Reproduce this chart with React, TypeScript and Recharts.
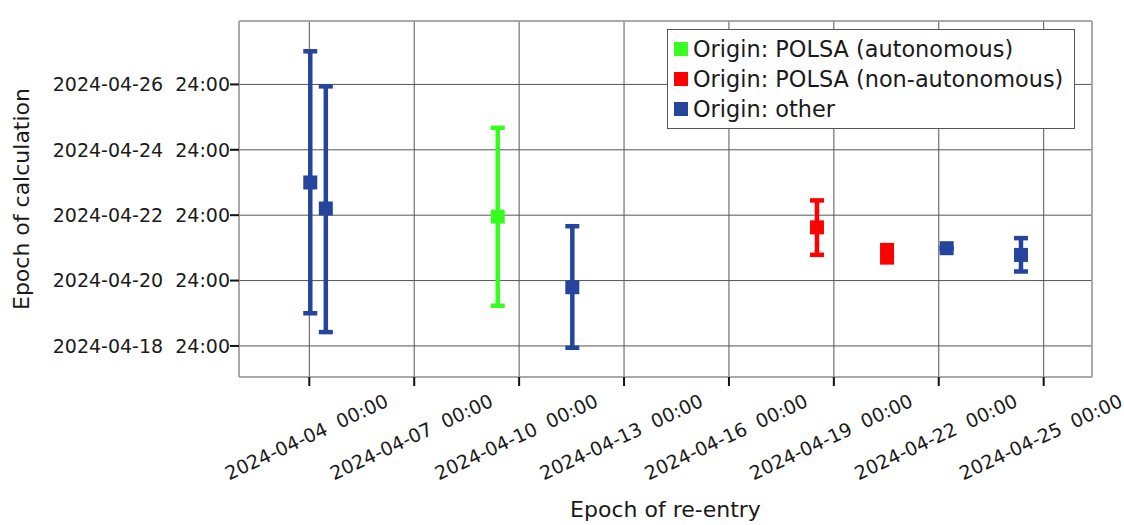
import React from 'react';
import {
  ScatterChart,
  Scatter,
  XAxis,
  YAxis,
  CartesianGrid,
  ErrorBar,
  Legend,
  Label,
} from 'recharts';

const FONT = '"DejaVu Sans", "Verdana", sans-serif';
const BASE = Date.UTC(2024, 3, 1);
const DAY = 86400000;
// timestamps are handled as fractional days since 2024-04-01 00:00 UTC
const toDay = (s: string) => (Date.parse(s + ':00Z') - BASE) / DAY;

const xTickLabels = [
  '2024-04-04  00:00',
  '2024-04-07  00:00',
  '2024-04-10  00:00',
  '2024-04-13  00:00',
  '2024-04-16  00:00',
  '2024-04-19  00:00',
  '2024-04-22  00:00',
  '2024-04-25  00:00',
];
const yTickLabels = [
  '2024-04-18  24:00',
  '2024-04-20  24:00',
  '2024-04-22  24:00',
  '2024-04-24  24:00',
  '2024-04-26  24:00',
];

const xTicks = xTickLabels.map((l) => toDay(l.replace('  ', 'T')));
// "24:00" is the end of the named day
const yTicks = yTickLabels.map((l) => toDay(l.slice(0, 10) + 'T00:00') + 1);

const xDomain = [toDay('2024-04-01T23:45'), toDay('2024-04-26T09:10')];
const yDomain = [toDay('2024-04-18T01:12'), toDay('2024-04-28T22:34')];

// Origin: POLSA (autonomous)
const autoReentry = ['2024-04-09T09:20'];
const autoCalc = ['2024-04-22T22:55'];
const autoLow = ['2024-04-20T05:30'];
const autoHigh = ['2024-04-25T16:10'];

// Origin: POLSA (non-autonomous)
const manualReentry = ['2024-04-18T12:25', '2024-04-20T12:30'];
const manualCalc = ['2024-04-22T15:05', '2024-04-21T19:40'];
const manualLow = ['2024-04-21T18:55', '2024-04-21T13:20'];
const manualHigh = ['2024-04-23T10:50', '2024-04-22T02:00'];

// Origin: other
const otherReentry = ['2024-04-04T00:40', '2024-04-04T11:20', '2024-04-11T12:30', '2024-04-22T05:25', '2024-04-24T08:25'];
const otherCalc = ['2024-04-24T00:00', '2024-04-23T04:55', '2024-04-20T19:05', '2024-04-21T23:45', '2024-04-21T18:50'];
const otherLow = ['2024-04-20T00:00', '2024-04-19T10:10', '2024-04-18T22:40', '2024-04-21T23:45', '2024-04-21T06:40'];
const otherHigh = ['2024-04-28T00:20', '2024-04-26T22:35', '2024-04-22T15:55', '2024-04-21T23:45', '2024-04-22T07:10'];

const GREEN = '#36ff1f';
const RED = '#ff0000';
const BLUE = '#25449b';

const build = (re: string[], calc: string[], lo: string[], hi: string[]) =>
  re.map((r, i) => {
    const y = toDay(calc[i]);
    return { x: toDay(r), y, err: [y - toDay(lo[i]), toDay(hi[i]) - y] };
  });

const autoData = build(autoReentry, autoCalc, autoLow, autoHigh);
const manualData = build(manualReentry, manualCalc, manualLow, manualHigh);
const otherData = build(otherReentry, otherCalc, otherLow, otherHigh);

const legendItems = [
  { label: 'Origin: POLSA (autonomous)', color: GREEN },
  { label: 'Origin: POLSA (non-autonomous)', color: RED },
  { label: 'Origin: other', color: BLUE },
];

const square = (fill: string) => (props: any) => (
  <rect x={props.cx - 7} y={props.cy - 7} width={14} height={14} fill={fill} />
);

const XTick = (props: any) => {
  const { x, y, payload } = props;
  const idx = xTicks.findIndex((t) => Math.abs(t - payload.value) < 1e-6);
  const ty = y + 57;
  return (
    <text
      x={x}
      y={ty}
      textAnchor="middle"
      transform={`rotate(-25, ${x}, ${ty})`}
      fontSize={19}
      fontFamily={FONT}
      fill="#1a1a1a"
      style={{ whiteSpace: 'pre' }}
    >
      {idx >= 0 ? xTickLabels[idx] : ''}
    </text>
  );
};

const YTick = (props: any) => {
  const { x, y, payload } = props;
  const idx = yTicks.findIndex((t) => Math.abs(t - payload.value) < 1e-6);
  return (
    <text
      x={x}
      y={y}
      dy="0.36em"
      textAnchor="end"
      fontSize={19}
      fontFamily={FONT}
      fill="#1a1a1a"
      style={{ whiteSpace: 'pre' }}
    >
      {idx >= 0 ? yTickLabels[idx] : ''}
    </text>
  );
};

const XTitle = (props: any) => {
  const vb = props.viewBox || { x: 239, y: 377, width: 853, height: 148 };
  return (
    <text x={vb.x + vb.width / 2} y={vb.y + 140} textAnchor="middle" fontSize={22} fontFamily={FONT} fill="#1a1a1a">
      Epoch of re-entry
    </text>
  );
};

const YTitle = (props: any) => {
  const vb = props.viewBox || { x: 0, y: 21, width: 239, height: 356 };
  const cx = vb.x + 29;
  const cy = vb.y + vb.height / 2;
  return (
    <text x={cx} y={cy} textAnchor="middle" transform={`rotate(-90, ${cx}, ${cy})`} fontSize={22} fontFamily={FONT} fill="#1a1a1a">
      Epoch of calculation
    </text>
  );
};

const LegendBox = () => (
  <div
    style={{
      boxSizing: 'border-box',
      width: 408,
      height: 100,
      border: '1.5px solid #555',
      background: '#fff',
      padding: '4px 0 0 6px',
      fontFamily: FONT,
      fontSize: 22.4,
      color: '#1a1a1a',
    }}
  >
    {legendItems.map((it) => (
      <div key={it.label} style={{ display: 'flex', alignItems: 'center', height: 30, whiteSpace: 'nowrap' }}>
        <span style={{ display: 'inline-block', width: 14, height: 14, background: it.color, marginRight: 5 }} />
        <span>{it.label}</span>
      </div>
    ))}
  </div>
);

const axisLine = { stroke: '#aaaaaa', strokeWidth: 1.5 };
const tickLine = { stroke: '#111111', strokeWidth: 2 };

export default function App() {
  return (
    <div style={{ position: 'fixed', left: 0, top: 0, background: '#fff' }}>
      <ScatterChart width={1124} height={525} margin={{ top: 0, right: 0, bottom: 0, left: 0 }} style={{ fontFamily: FONT }}>
        <CartesianGrid xAxisId="b" yAxisId="l" stroke="#555555" strokeWidth={1} fill="#fff" />
        <XAxis
          xAxisId="b"
          type="number"
          dataKey="x"
          orientation="bottom"
          domain={xDomain}
          ticks={xTicks}
          allowDataOverflow
          height={148}
          tickSize={9}
          tickMargin={0}
          axisLine={axisLine}
          tickLine={tickLine}
          tick={<XTick />}
          interval={0}
        >
          <Label content={<XTitle />} />
        </XAxis>
        <XAxis
          xAxisId="t"
          type="number"
          orientation="top"
          domain={xDomain}
          ticks={xTicks}
          allowDataOverflow
          height={21}
          tickSize={9}
          axisLine={axisLine}
          tickLine={tickLine}
          tick={false}
          interval={0}
        />
        <YAxis
          yAxisId="l"
          type="number"
          dataKey="y"
          orientation="left"
          domain={yDomain}
          ticks={yTicks}
          allowDataOverflow
          width={239}
          tickSize={9}
          tickMargin={0}
          axisLine={axisLine}
          tickLine={tickLine}
          tick={<YTick />}
          interval={0}
        >
          <Label content={<YTitle />} />
        </YAxis>
        <YAxis
          yAxisId="r"
          type="number"
          orientation="right"
          domain={yDomain}
          ticks={yTicks}
          allowDataOverflow
          width={32}
          tickSize={9}
          axisLine={axisLine}
          tickLine={tickLine}
          tick={false}
          interval={0}
        />
        <Legend
          layout="vertical"
          align="center"
          verticalAlign="middle"
          content={<LegendBox />}
          wrapperStyle={{ position: 'absolute', left: 667, top: 29, width: 408, height: 100 }}
        />
        <Scatter name="Origin: POLSA (autonomous)" data={autoData} xAxisId="b" yAxisId="l" fill={GREEN} shape={square(GREEN)} isAnimationActive={false}>
          <ErrorBar dataKey="err" direction="y" width={7} strokeWidth={4.5} stroke={GREEN} isAnimationActive={false} />
        </Scatter>
        <Scatter name="Origin: POLSA (non-autonomous)" data={manualData} xAxisId="b" yAxisId="l" fill={RED} shape={square(RED)} isAnimationActive={false}>
          <ErrorBar dataKey="err" direction="y" width={7} strokeWidth={4.5} stroke={RED} isAnimationActive={false} />
        </Scatter>
        <Scatter name="Origin: other" data={otherData} xAxisId="b" yAxisId="l" fill={BLUE} shape={square(BLUE)} isAnimationActive={false}>
          <ErrorBar dataKey="err" direction="y" width={7} strokeWidth={4.5} stroke={BLUE} isAnimationActive={false} />
        </Scatter>
      </ScatterChart>
    </div>
  );
}
